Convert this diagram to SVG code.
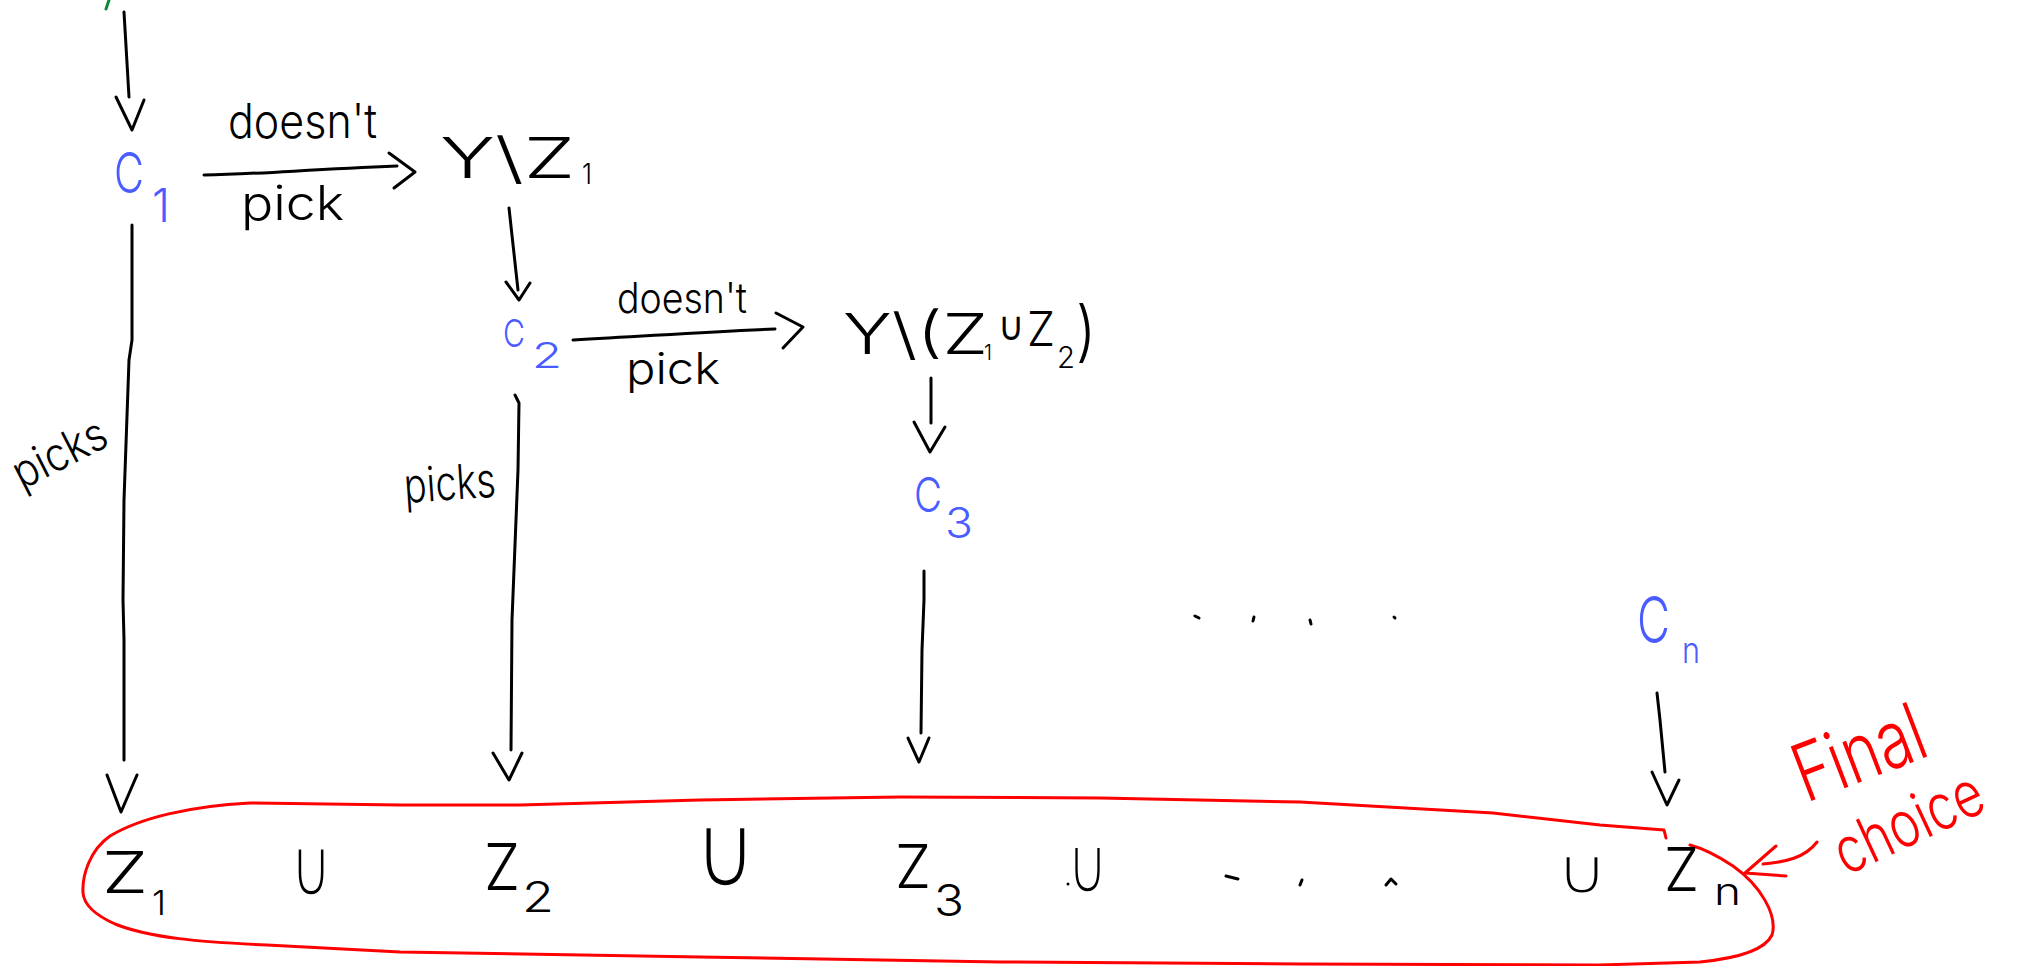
<svg xmlns="http://www.w3.org/2000/svg" width="2035" height="966" viewBox="0 0 2035 966">
<style>
.t{font-family:"Inter","Liberation Sans","DejaVu Sans",sans-serif;font-weight:300;fill:#000}
.u{font-family:"DejaVu Sans","Inter",sans-serif;fill:#000;stroke:#fff;stroke-width:2.5}
.b{fill:#4a5cff}
.r{fill:#ff0000}
.ln{fill:none;stroke:#000;stroke-width:3;stroke-linecap:round;stroke-linejoin:round}
.rl{fill:none;stroke:#ff0000;stroke-width:3;stroke-linecap:round;stroke-linejoin:round}
</style>
<rect width="2035" height="966" fill="#fff"/>
<path d="M109,0 L106,9" stroke="#0a8a3a" stroke-width="3" fill="none" stroke-linecap="round"/>
<g id="connectors">
  <path class="ln" d="M124,12 L129,97"/><path class="ln" d="M116,97 L132,130 L144,100"/>
  <path class="ln" d="M204,175 C260,174 300,170 397,166"/><path class="ln" d="M389,153 L415,172 L394,188"/>
  <path class="ln" d="M509,208 L518,290"/><path class="ln" d="M506,282 L519,300 L530,283"/>
  <path class="ln" d="M573,340 C650,336 700,332 775,329"/><path class="ln" d="M776,313 L803,327 L783,348"/>
  <path class="ln" d="M931,378 L931,423"/><path class="ln" d="M914,422 L930,452 L945,427"/>
  <path class="ln" d="M924,571 L924,600 L922,650 L921,733"/><path class="ln" d="M908,738 L919,762 L929,738"/>
  <path class="ln" d="M132,225 L132,340 L129,360 L124,500 L123,600 L124,640 L124,760"/><path class="ln" d="M107,775 L121,812 L137,775"/>
  <path class="ln" d="M515,395 L519,403 L518,470 L512,620 L511,750"/><path class="ln" d="M493,753 L509,780 L522,753"/>
  <path class="ln" d="M1657,693 L1660,720 L1665,772"/><path class="ln" d="M1652,772 L1667,805 L1679,780"/>
  <path class="rl" d="M1817,842 C1805,858 1785,862 1763,864"/><path class="rl" d="M1776,846 L1745,873 L1786,876"/>
</g>
<g id="node-c1">
  <text class="t b" x="114" y="193" font-size="56" textLength="30" lengthAdjust="spacingAndGlyphs">C</text>
  <text class="t b" x="152" y="222" font-size="46" textLength="18" lengthAdjust="spacingAndGlyphs">1</text>
</g>
<g id="label-c1-doesnt">
  <text class="t" x="228" y="138" font-size="48" textLength="149" lengthAdjust="spacingAndGlyphs">doesn't</text>
  <text class="t" x="241" y="220" font-size="48" textLength="103" lengthAdjust="spacingAndGlyphs">pick</text>
</g>
<g id="node-y-minus-z1">
  <text class="t" x="440" y="178" font-size="56" textLength="135" lengthAdjust="spacingAndGlyphs">Y\Z</text>
  <text class="t" x="582" y="184" font-size="28" textLength="10" lengthAdjust="spacingAndGlyphs">1</text>
</g>
<g id="node-c2">
  <text class="t b" x="503" y="347" font-size="38" textLength="22" lengthAdjust="spacingAndGlyphs">C</text>
  <text class="t b" x="532" y="368" font-size="36" textLength="30" lengthAdjust="spacingAndGlyphs">2</text>
</g>
<g id="label-c2-doesnt">
  <text class="t" x="617" y="313" font-size="42" textLength="130" lengthAdjust="spacingAndGlyphs">doesn't</text>
  <text class="t" x="626" y="384" font-size="44" textLength="94" lengthAdjust="spacingAndGlyphs">pick</text>
</g>
<g id="node-y-minus-z1z2">
  <text class="t" x="843" y="354" font-size="56" textLength="145" lengthAdjust="spacingAndGlyphs">Y\(Z</text>
  <text class="t" x="984" y="360" font-size="22" textLength="8" lengthAdjust="spacingAndGlyphs">1</text>
  <text class="t" x="998" y="340" font-size="40" textLength="26" lengthAdjust="spacingAndGlyphs">∪</text>
  <text class="t" x="1027" y="346" font-size="48" textLength="28" lengthAdjust="spacingAndGlyphs">Z</text>
  <text class="t" x="1057" y="368" font-size="30" textLength="18" lengthAdjust="spacingAndGlyphs">2</text>
  <text class="t" x="1076" y="354" font-size="66" textLength="20" lengthAdjust="spacingAndGlyphs">)</text>
</g>
<g id="node-c3">
  <text class="t b" x="914" y="512" font-size="48" textLength="28" lengthAdjust="spacingAndGlyphs">C</text>
  <text class="t b" x="945" y="538" font-size="42" textLength="28" lengthAdjust="spacingAndGlyphs">3</text>
</g>
<g id="node-cn">
  <text class="t b" x="1637" y="643" font-size="64" textLength="33" lengthAdjust="spacingAndGlyphs">C</text>
  <text class="t b" x="1682" y="663" font-size="36" textLength="18" lengthAdjust="spacingAndGlyphs">n</text>
</g>
<g id="label-picks-1">
  <text class="t" x="22" y="490" font-size="46" textLength="100" lengthAdjust="spacingAndGlyphs" transform="rotate(-27 22 490)">picks</text>
</g>
<g id="label-picks-2">
  <text class="t" x="405" y="503" font-size="48" textLength="92" lengthAdjust="spacingAndGlyphs" transform="rotate(-4 405 503)">picks</text>
</g>
<g id="ellipsis-top" class="ln">
  <path d="M1195,616 L1199,618"/><path d="M1253,621 L1254,617"/><path d="M1310,620 L1311,624"/><path d="M1394,617 L1395,618"/>
</g>
<g id="node-final-union">
  <path class="rl" d="M1666,838 L1664,830 L1600,825 L1493,813 L1300,802 L1100,798 L900,797 L700,800 L520,805 L400,805 L250,803 C190,806 140,818 110,836 C90,850 82,875 83,893 C84,905 95,915 115,924 C150,938 200,942 267,945 L400,952 L700,957 L1000,962 L1300,964 L1600,965 L1700,962 C1740,958 1765,950 1772,935 C1778,915 1760,885 1733,866 C1718,856 1705,849 1690,845"/>
  <text class="t" x="102" y="893" font-size="58" textLength="46" lengthAdjust="spacingAndGlyphs">Z</text>
  <text class="t" x="152" y="915" font-size="34" textLength="14" lengthAdjust="spacingAndGlyphs">1</text>
  <text class="u" transform="translate(290 896) scale(1 1.3)" font-size="64" textLength="42" lengthAdjust="spacingAndGlyphs">∪</text>
  <text class="t" x="484" y="890" font-size="64" textLength="36" lengthAdjust="spacingAndGlyphs">Z</text>
  <text class="t" x="522" y="912" font-size="42" textLength="32" lengthAdjust="spacingAndGlyphs">2</text>
  <text class="u" transform="translate(694 887) scale(1 1.45)" font-size="72" textLength="63" lengthAdjust="spacingAndGlyphs">∪</text>
  <text class="t" x="895" y="888" font-size="60" textLength="36" lengthAdjust="spacingAndGlyphs">Z</text>
  <text class="t" x="934" y="916" font-size="44" textLength="30" lengthAdjust="spacingAndGlyphs">3</text>
  <text class="u" transform="translate(1067 893) scale(1 1.3)" font-size="62" textLength="41" lengthAdjust="spacingAndGlyphs">∪</text>
  <circle cx="1068" cy="884" r="1.5" fill="#000"/>
  <path class="ln" d="M1226,876 L1238,879"/><path class="ln" d="M1302,880 L1300,885"/><path class="ln" d="M1386,885 L1391,879 L1396,884"/>
  <text class="u" transform="translate(1556 894) scale(1 1.1)" font-size="60" textLength="52" lengthAdjust="spacingAndGlyphs">∪</text>
  <text class="t" x="1664" y="891" font-size="60" textLength="35" lengthAdjust="spacingAndGlyphs">Z</text>
  <text class="t" x="1714" y="905" font-size="38" textLength="27" lengthAdjust="spacingAndGlyphs">n</text>
</g>
<g id="label-final-choice">
  <text class="t r" x="1806" y="803" font-size="80" textLength="135" lengthAdjust="spacingAndGlyphs" transform="rotate(-21 1806 803)">Final</text>
  <text class="t r" x="1846" y="876" font-size="64" textLength="158" lengthAdjust="spacingAndGlyphs" transform="rotate(-25 1846 876)">choice</text>
</g>
</svg>
